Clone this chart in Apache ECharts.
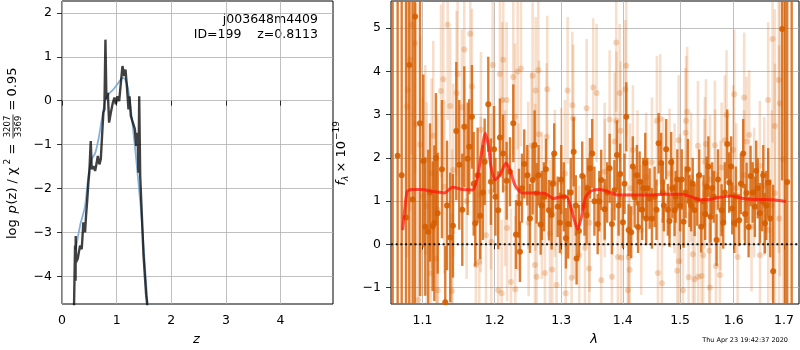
<!DOCTYPE html>
<html>
<head>
<meta charset="utf-8">
<script src="https://cdn.jsdelivr.net/npm/echarts/dist/echarts.min.js"></script>
<style>
  html, body { margin: 0; padding: 0; background: #fff; }
  #chart { width: 800px; height: 350px; }
</style>
</head>
<body>
<div id="chart"></div>
<script>
// ---- left panel: log p(z) ----
var zTicks = [0, 1, 2, 3, 4]
var pzTicks = [-4, -3, -2, -1, 0, 1, 2]
// noisy p(z) curve [z, log p]
var pzCurve = [
    [0.22, -4.7], [0.239, -3.30], [0.248, -4.1], [0.251, -3.08], [0.257, -3.68], [0.288, -3.6],
    [0.33, -3.3], [0.361, -3.38], [0.391, -2.77], [0.422, -3.0], [0.44, -2.62], [0.46, -2.3],
    [0.483, -1.86], [0.50, -1.64], [0.526, -0.92], [0.544, -1.56], [0.574, -1.49], [0.606, -1.6],
    [0.636, -1.41], [0.655, -1.26], [0.685, -1.45], [0.71, -1.33], [0.74, -0.65], [0.758, -0.27],
    [0.776, -0.2], [0.795, 1.39], [0.813, 0.03], [0.839, 0.18], [0.862, -0.5], [0.894, -0.27],
    [0.93, -0.05], [0.96, 0.07], [0.985, -0.08], [1.015, 0.1], [1.046, -0.01], [1.083, 0.48],
    [1.107, 0.79], [1.138, 0.56], [1.162, 0.71], [1.187, 0.33], [1.217, -0.2], [1.235, 0.1],
    [1.26, -0.35], [1.297, -0.5], [1.334, -0.65], [1.358, -1.03], [1.382, -0.73], [1.40, -1.64],
    [1.413, 0.1], [1.431, -1.71], [1.462, -2.62], [1.492, -3.53], [1.541, -4.44], [1.575, -4.8]
]
// smooth fit curve [z, log p]
var pzSmooth = [
    [0.25, -3.4], [0.33, -2.85], [0.422, -2.4], [0.483, -1.71], [0.544, -1.33], [0.606, -1.2],
    [0.667, -0.88], [0.728, -0.43], [0.789, -0.01], [0.85, 0.14], [0.942, 0.26], [1.034, 0.41],
    [1.113, 0.52], [1.156, 0.48], [1.205, 0.3], [1.26, -0.2], [1.321, -0.88], [1.382, -1.64],
    [1.444, -2.47], [1.505, -3.53], [1.575, -4.8]
]

// ---- right panel: spectrum ----
var lamTicks = [1.1, 1.2, 1.3, 1.4, 1.5, 1.6, 1.7]
var fluxTicks = [-1, 0, 1, 2, 3, 4, 5]
// [lambda, flux, err] -- main grism data
var darkSpec = [
    [1.0612, 8, 10], [1.0676, 2.05, 9], [1.0728, 1.6, 9], [1.0784, 0.62, 9], [1.0827, 4.15, 9],
    [1.0871, 1.04, 9], [1.0902, 5.27, 9], [1.0967, 2.8, 4], [1.1011, 1.93, 2.0], [1.1037, 0.41, 1.6],
    [1.1077, 0.29, 1.9], [1.1100, 1.2, 1.6], [1.1136, 0.42, 1.5], [1.1158, 0.49, 1.8], [1.1180, 2.0, 1.5],
    [1.1203, 0.72, 1.4], [1.1261, 1.74, 1.6], [1.1306, -1.34, 1.3], [1.1330, 0.9, 1.5], [1.1374, 0.16, 1.5],
    [1.1411, 0.43, 1.2], [1.1457, 2.62, 1.6], [1.1498, 1.84, 1.5], [1.1540, 0.8, 1.3], [1.1568, 2.72, 1.4],
    [1.1615, 1.98, 1.3], [1.1637, 2.26, 1.1], [1.1675, 2.95, 1.2], [1.1700, 1.4, 1.2], [1.1722, 0.49, 1.0],
    [1.1755, 1.6, 1.1], [1.1792, 0.66, 1.0], [1.1830, 1.2, 1.1], [1.1855, 1.91, 1.0], [1.1907, 3.24, 1.1],
    [1.1945, 1.45, 1.0], [1.1990, 2.2, 1.0], [1.2010, 1.1, 0.9], [1.2050, 0.79, 0.9], [1.2075, 2.47, 0.9],
    [1.2120, 2.1, 0.9], [1.2173, 1.47, 0.9], [1.2222, 1.68, 0.8], [1.2271, 2.8, 0.9], [1.2311, 0.23, 0.8],
    [1.2355, 0.95, 0.8], [1.2370, -0.17, 0.7], [1.2400, 1.3, 0.8], [1.2434, 1.86, 0.8], [1.2479, 1.6, 0.7],
    [1.2520, 0.6, 0.8], [1.2560, 1.49, 0.8], [1.2590, 2.3, 0.8], [1.2621, 1.18, 0.7], [1.2650, 1.6, 0.7],
    [1.2682, 0.46, 0.7], [1.2700, 0.9, 0.8], [1.2732, 1.1, 0.8], [1.2763, 1.74, 0.7], [1.2809, 0.79, 0.7],
    [1.2850, 0.68, 0.8], [1.2870, 1.4, 0.7], [1.2891, 2.1, 0.7], [1.2944, 0.87, 0.7], [1.2980, 0.5, 0.7],
    [1.3000, 1.5, 0.8], [1.3040, 1.1, 0.8], [1.3074, 0.14, 0.7], [1.3110, 0.47, 0.8], [1.3150, 1.2, 0.8],
    [1.3196, 2.14, 0.8], [1.3230, 0.9, 0.7], [1.3243, -0.33, 0.6], [1.3280, 0.31, 0.6], [1.3333, 1.58, 0.8],
    [1.3370, 0.9, 0.7], [1.3404, 0.68, 0.7], [1.3420, 1.3, 0.7], [1.3457, 1.76, 0.7], [1.3494, 2.1, 0.8],
    [1.3530, 1.0, 0.8], [1.3583, 0.47, 0.7], [1.3610, 1.0, 0.7], [1.3641, 1.49, 0.7], [1.3698, 0.81, 0.7],
    [1.3740, 1.2, 0.7], [1.3780, 1.76, 0.8], [1.3818, 0.47, 0.7], [1.3860, 1.25, 0.7], [1.3902, 2.07, 0.8],
    [1.3930, 0.9, 0.7], [1.3957, 1.63, 0.7], [1.4003, 0.51, 0.6], [1.4030, 1.4, 0.7], [1.4059, 2.95, 0.8],
    [1.4099, 0.33, 0.6], [1.4143, 0.28, 0.6], [1.4170, 1.8, 0.7], [1.4201, 1.09, 0.7], [1.4240, 1.6, 0.7],
    [1.4260, 0.4, 0.6], [1.4287, 1.45, 0.7], [1.4330, 0.8, 0.7], [1.4350, 1.3, 0.7], [1.4384, 1.88, 0.7],
    [1.4400, 0.6, 0.6], [1.4420, 1.3, 0.7], [1.4460, 1.06, 0.7], [1.4500, 0.6, 0.7], [1.4547, 1.1, 0.7],
    [1.4580, 0.8, 0.7], [1.4617, 2.34, 0.7], [1.4663, 1.88, 0.7], [1.4690, 1.2, 0.7], [1.4710, 0.9, 0.6],
    [1.4751, 2.2, 0.7], [1.4780, 0.8, 0.6], [1.4811, 0.54, 0.6], [1.4840, 1.9, 0.7], [1.4860, 1.3, 0.7],
    [1.4901, 0.79, 0.6], [1.4920, 1.1, 0.6], [1.4950, 1.5, 0.7], [1.5000, 0.9, 0.6], [1.5030, 1.5, 0.7],
    [1.5064, 0.52, 0.6], [1.5100, 1.2, 0.6], [1.5142, 1.74, 0.7], [1.5170, 1.0, 0.6], [1.5200, 0.9, 0.6],
    [1.5230, 1.4, 0.6], [1.5265, 0.79, 0.6], [1.5313, 1.03, 0.6], [1.5350, 1.6, 0.6], [1.5386, 0.41, 0.6],
    [1.5430, 1.0, 0.6], [1.5460, 0.7, 0.6], [1.5487, 1.33, 0.7], [1.5520, 1.8, 0.7], [1.5561, 0.64, 0.6],
    [1.5590, 1.3, 0.6], [1.5620, 1.1, 0.6], [1.5674, 0.1, 0.6], [1.5700, 1.5, 0.7], [1.5769, 0.79, 0.6],
    [1.5800, 0.5, 0.6], [1.5830, 1.2, 0.7], [1.5876, 2.32, 0.8], [1.5914, 1.43, 0.7], [1.5950, 1.8, 0.7],
    [1.5972, 0.83, 0.6], [1.6010, 0.5, 0.7], [1.6040, 1.1, 0.7], [1.6106, 0.56, 0.6], [1.6140, 1.4, 0.7],
    [1.6184, 2.1, 0.8], [1.6220, 0.7, 0.7], [1.6250, 1.19, 0.7], [1.6290, 0.4, 0.7], [1.6329, 1.58, 0.7],
    [1.6370, 1.2, 0.7], [1.6413, 0.87, 0.7], [1.6440, 1.7, 0.7], [1.6470, 1.3, 0.7], [1.6512, 0.72, 0.7],
    [1.6560, 1.0, 0.7], [1.6580, 1.6, 0.7], [1.6612, 0.49, 0.7], [1.6640, 0.9, 0.8], [1.6678, 1.43, 0.8],
    [1.6720, 0.6, 0.9], [1.6779, -0.62, 2.0], [1.6962, 4.98, 3.5], [1.7018, 8, 10], [1.7065, 1.44, 9],
    [1.7157, 8, 10]
]
// [lambda, flux, err] -- second orient, drawn faint
var lightSpec = [
    [1.0797, 3.19, 3.5], [1.0806, 3.57, 3.0], [1.0836, 4.27, 3.5], [1.0858, 5.08, 3.0], [1.0902, 4.65, 3.0],
    [1.0915, 2.78, 2.8], [1.0945, -1.29, 2.5], [1.0971, 2.31, 2.5], [1.1000, 1.1, 2.3], [1.1037, 1.95, 2.2],
    [1.1056, 0.89, 2.4], [1.1113, -0.67, 2.0], [1.1122, 1.64, 2.2], [1.1144, 2.51, 2.2], [1.1180, -0.33, 2.0],
    [1.1200, 0.8, 2.2], [1.1203, -1.06, 1.8], [1.1248, 3.55, 2.0], [1.1279, 3.82, 2.0], [1.1292, 1.33, 2.0],
    [1.1339, 5.08, 2.2], [1.1374, 3.2, 1.8], [1.1397, -1.08, 1.8], [1.1400, 0.3, 1.9], [1.1415, 1.72, 2.0],
    [1.1462, 3.5, 1.9], [1.1476, 3.94, 2.0], [1.1535, 3.17, 1.8], [1.1568, 4.51, 1.9], [1.1600, 1.0, 1.8],
    [1.1651, 4.87, 2.0], [1.1675, 3.65, 1.8], [1.1731, -0.48, 1.8], [1.1778, -0.4, 1.8], [1.1800, 1.15, 1.8],
    [1.1802, 2.65, 1.8], [1.1874, 0.21, 1.8], [1.1945, 1.22, 1.8], [1.1950, 0.06, 1.8], [1.1970, 4.15, 1.8],
    [1.2050, -1.06, 1.8], [1.2075, 3.94, 1.8], [1.2100, -1.13, 1.7], [1.2109, 3.34, 1.8], [1.2123, 4.27, 1.8],
    [1.2150, 1.3, 1.8], [1.2173, 3.34, 1.8], [1.2180, 0.38, 1.7], [1.2237, -0.87, 1.7], [1.2271, 3.87, 1.8],
    [1.2296, 2.95, 1.7], [1.2300, -1.04, 1.7], [1.2336, 4.0, 1.8], [1.2350, 1.1, 1.7], [1.2385, 4.07, 1.8],
    [1.2494, 1.6, 1.7], [1.2500, 0.5, 1.7], [1.2545, 2.28, 1.7], [1.2560, 3.9, 1.7], [1.2595, -0.48, 1.7],
    [1.2600, 1.55, 1.7], [1.2606, 3.56, 1.7], [1.2621, -0.75, 1.7], [1.2646, 4.03, 1.7], [1.2656, 2.55, 1.7],
    [1.2700, 0.9, 1.7], [1.2747, -0.66, 1.7], [1.2774, 2.49, 1.7], [1.2783, 3.59, 1.7], [1.2824, 0.25, 1.7],
    [1.2860, -0.58, 1.7], [1.2901, 1.41, 1.7], [1.2927, -0.94, 1.7], [1.3000, 1.45, 1.7], [1.3059, 1.64, 1.7],
    [1.3070, -1.13, 1.7], [1.3101, 3.56, 1.7], [1.3164, -0.77, 1.7], [1.3175, 3.22, 1.7], [1.3189, 2.92, 1.7],
    [1.3200, 0.8, 1.6], [1.3285, -0.25, 1.6], [1.3377, -0.08, 1.6], [1.3404, 3.15, 1.6], [1.3446, -0.56, 1.6],
    [1.3450, 0.5, 1.6], [1.3511, 3.63, 1.6], [1.3565, 3.5, 1.6], [1.3641, -0.83, 1.6], [1.3698, 1.68, 1.6],
    [1.3700, 1.3, 1.6], [1.3780, 2.89, 1.6], [1.3818, -0.75, 1.6], [1.3863, 2.38, 1.6], [1.3890, 4.67, 1.6],
    [1.3895, 2.86, 1.6], [1.3918, -0.29, 1.6], [1.3947, 3.5, 1.6], [1.3964, 2.63, 1.6], [1.3974, -0.31, 1.6],
    [1.4042, 3.59, 1.6], [1.4059, 4.13, 1.6], [1.4087, -1.06, 1.5], [1.4099, -0.3, 1.5], [1.4116, -0.59, 1.5],
    [1.4120, 1.3, 1.5], [1.4172, 2.18, 1.5], [1.4250, 1.6, 1.5], [1.4314, 0.33, 1.5], [1.4400, 1.55, 1.5],
    [1.4500, 1.9, 1.5], [1.4587, 2.86, 1.5], [1.4605, -0.66, 1.5], [1.4645, 2.9, 1.5], [1.4675, -0.9, 1.5],
    [1.4700, 1.45, 1.5], [1.4811, 1.64, 1.5], [1.4900, 1.3, 1.5], [1.4948, -0.61, 1.5], [1.4973, 2.41, 1.5],
    [1.4980, -0.39, 1.5], [1.5000, 1.05, 1.5], [1.5052, -1.06, 1.5], [1.5100, 2.58, 1.5], [1.5110, 2.86, 1.5],
    [1.5129, 3.07, 1.5], [1.5155, -0.76, 1.5], [1.5200, 1.55, 1.5], [1.5233, -0.23, 1.5], [1.5265, -0.81, 1.5],
    [1.5326, 2.28, 1.5], [1.5330, -0.75, 1.5], [1.5393, -0.73, 1.5], [1.5423, -0.25, 1.5], [1.5450, 1.4, 1.5],
    [1.5455, 1.91, 1.5], [1.5474, 2.32, 1.5], [1.5535, -0.15, 1.5], [1.5548, -1.0, 1.5], [1.5550, 1.5, 1.5],
    [1.5642, 2.29, 1.5], [1.5645, 1.62, 1.5], [1.5661, -0.5, 1.5], [1.5736, -0.71, 1.5], [1.5750, 0.9, 1.5],
    [1.5769, 1.78, 1.5], [1.5831, 2.41, 1.5], [1.5863, 2.99, 1.5], [1.5991, 2.18, 1.5], [1.6011, 3.47, 1.5],
    [1.6050, 1.3, 1.5], [1.6076, -0.29, 1.5], [1.6200, 1.6, 1.5], [1.6203, 3.4, 1.5], [1.6250, 2.38, 1.5],
    [1.6301, 2.53, 1.5], [1.6348, 0.41, 1.5], [1.6400, 1.2, 1.5], [1.6512, 1.82, 1.5], [1.6515, -0.25, 1.5],
    [1.6600, 1.35, 1.6], [1.6678, 3.34, 1.8], [1.6680, 0.33, 1.8], [1.6750, 0.9, 2.2], [1.6767, 4.75, 2.4],
    [1.6813, 2.74, 2.7], [1.6815, 1.18, 3], [1.6894, 3.8, 4], [1.6900, 0.6, 4], [1.6915, 3.26, 4],
    [1.6982, 1.97, 4]
]
// best-fit model [lambda, flux]
var modelSpec = [
    [1.0741, 0.33], [1.0797, 1.22], [1.0849, 1.27], [1.098, 1.27], [1.1158, 1.22], [1.1292, 1.19],
    [1.1407, 1.32], [1.1545, 1.27], [1.1685, 1.26], [1.1745, 1.49], [1.1802, 2.03], [1.1864, 2.57],
    [1.1912, 2.26], [1.1945, 1.80], [1.2003, 1.49], [1.2075, 1.6], [1.2163, 1.88], [1.2222, 1.72],
    [1.2296, 1.37], [1.2395, 1.19], [1.2595, 1.19], [1.2747, 1.18], [1.2875, 1.06], [1.3006, 1.10],
    [1.3085, 1.10], [1.3164, 0.79], [1.3259, 0.35], [1.3323, 0.64], [1.3388, 1.10], [1.3485, 1.24],
    [1.3620, 1.27], [1.3752, 1.22], [1.3918, 1.14], [1.4143, 1.14], [1.4430, 1.14], [1.4723, 1.16],
    [1.5020, 1.16], [1.5202, 1.10], [1.5362, 1.03], [1.5548, 1.04], [1.5736, 1.09], [1.5959, 1.12],
    [1.6184, 1.06], [1.6380, 1.04], [1.6578, 1.04], [1.6779, 1.03], [1.7037, 0.99]
]

var lamMin = 1.0591, lamMax = 1.7309
var font = '"DejaVu Sans", sans-serif'
var minus = function (v) { return v < 0 ? '\u2212' + Math.abs(v) : String(v) }
var lg = function (v) { return Math.log10(v) }

function errRender(barColor, dotColor, barW, r) {
    return function (params, api) {
        var cs = params.coordSys
        var x = api.value(0), y = api.value(1), e = api.value(2)
        var p = api.coord([x, y])
        var top = Math.max(api.coord([x, y + e])[1], cs.y)
        var bot = Math.min(api.coord([x, y - e])[1], cs.y + cs.height)
        var kids = []
        if (bot > top) {
            kids.push({ type: 'line', shape: { x1: p[0], y1: top, x2: p[0], y2: bot }, style: { stroke: barColor, lineWidth: barW } })
        }
        if (p[1] >= cs.y && p[1] <= cs.y + cs.height) {
            kids.push({ type: 'circle', shape: { cx: p[0], cy: p[1], r: r }, style: { fill: dotColor } })
        }
        return { type: 'group', children: kids }
    }
}

function txt(x, y, s, size, opts) {
    opts = opts || {}
    return {
        type: 'text', x: x, y: y,
        style: {
            text: s, fill: '#000', fontSize: size, fontFamily: font,
            fontStyle: opts.italic ? 'italic' : 'normal',
            textAlign: opts.align || 'left', align: opts.align || 'left',
            textVerticalAlign: 'middle', verticalAlign: 'middle'
        }
    }
}

var axisCommon = {
    axisLine: { show: false },
    axisTick: { show: true, length: 5, lineStyle: { color: '#000', width: 0.8 } },
    axisLabel: { color: '#000', fontSize: 12.5, fontFamily: font, margin: 10 },
    splitLine: { show: true, lineStyle: { color: '#b0b0b0', width: 0.8 } }
}
function axis(extra, ticks, fmt) {
    return Object.assign({}, axisCommon, extra, {
        axisTick: Object.assign({}, axisCommon.axisTick, { customValues: ticks }),
        axisLabel: Object.assign({}, axisCommon.axisLabel, { customValues: ticks, formatter: fmt }),
        splitLine: axisCommon.splitLine
    })
}

var chart = echarts.init(document.getElementById('chart'), null, { renderer: 'canvas' })
var option = {
    animation: false,
    backgroundColor: '#fff',
    grid: [
        { left: 62, top: 1, right: 467, bottom: 46, show: true, borderColor: '#000', borderWidth: 1, outerBoundsMode: 'none', containLabel: false },
        { left: 391, top: 1, right: 1, bottom: 46, show: true, borderColor: '#000', borderWidth: 1, outerBoundsMode: 'none', containLabel: false }
    ],
    xAxis: [
        axis({ type: 'value', gridIndex: 0, min: 0, max: 4.96 }, zTicks, minus),
        axis({ type: 'value', gridIndex: 1, min: lg(lamMin), max: lg(lamMax) }, lamTicks.map(lg),
            function (v) { return Math.pow(10, v).toFixed(1) })
    ],
    yAxis: [
        axis({ type: 'value', gridIndex: 0, min: -4.63, max: 2.27 }, pzTicks, minus),
        axis({ type: 'value', gridIndex: 1, min: -1.38, max: 5.63 }, fluxTicks, minus)
    ],
    series: [
        {
            type: 'line', xAxisIndex: 0, yAxisIndex: 0, data: pzSmooth, showSymbol: false, smooth: 0.3,
            lineStyle: { color: 'rgba(110,165,210,0.85)', width: 1.8 }, z: 2
        },
        {
            type: 'line', xAxisIndex: 0, yAxisIndex: 0, data: pzCurve, showSymbol: false,
            lineStyle: { color: 'rgba(0,0,0,0.75)', width: 2.4 }, z: 3
        },
        {
            type: 'custom', xAxisIndex: 1, yAxisIndex: 1, silent: true, z: 2,
            renderItem: errRender('rgba(213,94,0,0.2)', 'rgba(213,94,0,0.25)', 2.6, 3.0),
            data: lightSpec.map(function (d) { return [lg(d[0]), d[1], d[2]] })
        },
        {
            type: 'custom', xAxisIndex: 1, yAxisIndex: 1, silent: true, z: 3,
            renderItem: errRender('rgba(213,94,0,0.8)', 'rgba(213,94,0,0.9)', 2.4, 3.0),
            data: darkSpec.map(function (d) { return [lg(d[0]), d[1], d[2]] })
        },
        {
            type: 'line', xAxisIndex: 1, yAxisIndex: 1, showSymbol: false, smooth: 0.2, z: 4,
            lineStyle: { color: 'rgba(255,20,10,0.72)', width: 3 },
            data: modelSpec.map(function (d) { return [lg(d[0]), d[1]] })
        },
        {
            type: 'line', xAxisIndex: 1, yAxisIndex: 1, showSymbol: false, z: 5,
            lineStyle: { color: '#111', width: 2, type: [2, 2.7] },
            data: [[lg(lamMin), 0], [lg(lamMax), 0]]
        }
    ],
    graphic: [
        txt(318, 20, 'j003648m4409', 12.5, { align: 'right' }),
        txt(318, 35, 'ID=199    z=0.8113', 12.5, { align: 'right' }),
        txt(196.5, 340, 'z', 13, { italic: true, align: 'center' }),
        txt(594, 340, '\u03bb', 13, { italic: true, align: 'center' }),
        txt(788, 340, 'Thu Apr 23 19:42:37 2020', 6.5, { align: 'right' }),
        {
            // left y label, rotated
            type: 'group', x: 13, y: 153.5, rotation: Math.PI / 2,
            children: [
                txt(-85.5, 0, 'log', 13),
                txt(-60, 0, 'p', 13, { italic: true }),
                txt(-51, 0, '(z) / \u03c7', 13),
                txt(-11, -5, '2', 9),
                txt(-1, 0, '=', 13),
                txt(27, -5.5, '3207', 8.5, { align: 'center' }),
                { type: 'line', shape: { x1: 15, y1: 0, x2: 39, y2: 0 }, style: { stroke: '#000', lineWidth: 0.8 } },
                txt(27, 5.5, '3369', 8.5, { align: 'center' }),
                txt(43, 0, '=', 13),
                txt(57, 0, '0.95', 13)
            ]
        },
        {
            // right y label, rotated
            type: 'group', x: 342, y: 153.5, rotation: Math.PI / 2,
            children: [
                txt(-32, 0, 'f', 13, { italic: true }),
                txt(-27.5, 3.5, '\u03bb', 9, { italic: true }),
                txt(-19, 0, '\u00d7 10', 13),
                txt(13.5, -5, '\u221219', 9)
            ]
        }
    ]
}
chart.setOption(option)
</script>
</body>
</html>
